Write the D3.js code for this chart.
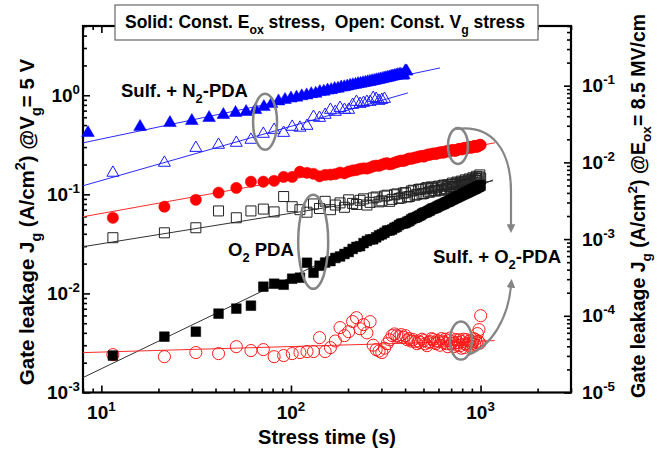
<!DOCTYPE html>
<html>
<head>
<meta charset="utf-8">
<script src="https://cdn.jsdelivr.net/npm/d3@7"></script>
<style>
    body { margin: 0; background: #fff; }
    text { font-family: Arial, "Liberation Sans", sans-serif; font-weight: bold; fill: #000; }
</style>
</head>
<body>
<svg id="SVG_CONTAINER" width="657" height="450"></svg>
<script>
let d3 = window.d3;

// ---- data (stress time in s, leakage in A/cm^2) ----
const timesN2Eox = [8.5, 16, 23, 30, 37, 44, 51, 58, 65, 72, 79, 86, 93, 100, 107, 114, 121, 128, 135, 142,
    149, 156, 163, 170, 177, 184, 191, 198, 205, 212, 219, 226, 233, 240, 247, 254, 261, 268, 275, 282,
    289, 296, 303, 310, 317, 324, 331, 338, 345, 352, 359, 366, 373, 380, 387, 394, 401, 408];
const jN2Eox = [0.417, 0.480, 0.526, 0.551, 0.591, 0.634, 0.664, 0.680, 0.712, 0.762, 0.818, 0.87, 0.90, 0.93,
    0.95, 0.98, 1.00, 1.03, 1.04, 1.08, 1.09, 1.12, 1.13, 1.16, 1.17, 1.20, 1.21, 1.23, 1.25, 1.27, 1.28,
    1.30, 1.31, 1.33, 1.34, 1.36, 1.37, 1.39, 1.40, 1.42, 1.43, 1.45, 1.46, 1.48, 1.49, 1.51, 1.52, 1.54,
    1.55, 1.57, 1.58, 1.60, 1.61, 1.62, 1.58, 1.60, 1.75, 1.74];

const timesN2Vg = [11.5, 21.5, 31.5, 41.5, 51.5, 61.5, 71.5, 81.5, 91.5, 101.5, 111.5, 121.5, 131.5, 141.5,
    151.5, 161.5, 171.5, 181.5, 191.5, 201.5, 211.5, 221.5, 231.5, 241.5, 251.5, 261.5, 271.5, 281.5,
    291.5, 301.5, 311.5];
const jN2Vg = [0.165, 0.208, 0.294, 0.316, 0.331, 0.355, 0.408, 0.447, 0.417, 0.480, 0.47, 0.491, 0.605,
    0.591, 0.634, 0.712, 0.680, 0.745, 0.712, 0.712, 0.799, 0.857, 0.818, 0.837, 0.857, 0.857, 0.940,
    0.918, 0.877, 0.897, 0.918];

const timesLong = [11.5, 21.5, 31.5, 41.5, 51.5, 61.5, 71.5, 81.5, 91.5, 101.5,
    111.5, 121.5, 131.5, 141.5, 151.5, 161.5, 171.5, 181.5, 191.5, 201.5,
    211.5, 221.5, 231.5, 241.5, 251.5, 261.5, 271.5, 281.5, 291.5, 301.5,
    311.5, 321.5, 331.5, 341.5, 351.5, 361.5, 371.5, 381.5, 391.5, 401.5,
    411.5, 421.5, 431.5, 441.5, 451.5, 461.5, 471.5, 481.5, 491.5, 501.5,
    511.5, 521.5, 531.5, 541.5, 551.5, 561.5, 571.5, 581.5, 591.5, 601.5,
    611.5, 621.5, 631.5, 641.5, 651.5, 661.5, 671.5, 681.5, 691.5, 701.5,
    711.5, 721.5, 731.5, 741.5, 751.5, 761.5, 771.5, 781.5, 791.5, 801.5,
    811.5, 821.5, 831.5, 841.5, 851.5, 861.5, 871.5, 881.5, 891.5, 901.5,
    911.5, 921.5, 931.5, 941.5, 951.5, 961.5, 971.5, 981.5, 991.5, 1001.5];

const jSulfO2Eox = [0.058, 0.075, 0.088, 0.104, 0.116, 0.134, 0.134, 0.137, 0.150, 0.150,
    0.169, 0.165, 0.161, 0.152, 0.157, 0.158, 0.160, 0.166, 0.163, 0.170,
    0.174, 0.176, 0.181, 0.183, 0.182, 0.186, 0.192, 0.195, 0.194, 0.199,
    0.204, 0.206, 0.201, 0.203, 0.209, 0.212, 0.216, 0.219, 0.217, 0.221,
    0.226, 0.230, 0.228, 0.232, 0.235, 0.236, 0.240, 0.242, 0.244, 0.240,
    0.246, 0.249, 0.253, 0.251, 0.255, 0.257, 0.259, 0.255, 0.260, 0.262,
    0.265, 0.266, 0.263, 0.265, 0.270, 0.272, 0.274, 0.270, 0.275, 0.277,
    0.280, 0.279, 0.275, 0.276, 0.281, 0.284, 0.287, 0.288, 0.284, 0.286,
    0.291, 0.293, 0.295, 0.290, 0.294, 0.297, 0.301, 0.300, 0.296, 0.297,
    0.302, 0.304, 0.308, 0.307, 0.302, 0.303, 0.309, 0.312, 0.316, 0.315];

const jO2Vg = [0.0365, 0.0409, 0.046, 0.068, 0.058, 0.068, 0.071, 0.0665, 0.095, 0.075,
    0.070, 0.066, 0.080, 0.072, 0.085, 0.070, 0.078, 0.082, 0.074, 0.088,
    0.081, 0.079, 0.087, 0.090, 0.078, 0.083, 0.092, 0.094, 0.084, 0.086,
    0.096, 0.098, 0.085, 0.089, 0.099, 0.101, 0.091, 0.092, 0.103, 0.104,
    0.094, 0.095, 0.108, 0.110, 0.098, 0.100, 0.112, 0.113, 0.101, 0.102,
    0.114, 0.117, 0.105, 0.106, 0.119, 0.115, 0.109, 0.108, 0.118, 0.121,
    0.111, 0.110, 0.122, 0.124, 0.114, 0.113, 0.125, 0.120, 0.118, 0.126,
    0.130, 0.116, 0.121, 0.128, 0.133, 0.119, 0.124, 0.131, 0.136, 0.122,
    0.127, 0.134, 0.140, 0.125, 0.130, 0.137, 0.143, 0.128, 0.133, 0.140,
    0.147, 0.132, 0.138, 0.145, 0.152, 0.138, 0.143, 0.150, 0.157, 0.146];

const jO2Eox = [0.00236, 0.00366, 0.00411, 0.00625, 0.00702, 0.00752, 0.01169, 0.01253, 0.01225, 0.01408,
    0.01441, 0.0204, 0.01618, 0.01904, 0.0205, 0.0212, 0.0228, 0.0236, 0.0250, 0.0262,
    0.0281, 0.0295, 0.0300, 0.0322, 0.0338, 0.0350, 0.0352, 0.0368, 0.0385, 0.0395,
    0.0410, 0.0430, 0.0432, 0.0442, 0.0460, 0.0470, 0.0490, 0.0505, 0.0508, 0.0515,
    0.0530, 0.0540, 0.0560, 0.0575, 0.0580, 0.0590, 0.0605, 0.0615, 0.0635, 0.0650,
    0.0655, 0.0665, 0.0680, 0.0690, 0.0710, 0.0720, 0.0725, 0.0735, 0.0750, 0.0765,
    0.0775, 0.0785, 0.0795, 0.0805, 0.0820, 0.0835, 0.0840, 0.0850, 0.0865, 0.0880,
    0.0890, 0.0900, 0.0915, 0.0925, 0.0935, 0.0950, 0.0960, 0.0970, 0.0985, 0.0995,
    0.1005, 0.1015, 0.1030, 0.1040, 0.1050, 0.1060, 0.1075, 0.1085, 0.1095, 0.1110,
    0.1120, 0.1130, 0.1140, 0.1150, 0.1165, 0.1180, 0.1190, 0.1200, 0.1215, 0.1230];

const jSulfO2Vg = [0.00241, 0.00230, 0.00253, 0.00247, 0.00290, 0.00265, 0.00271, 0.00230, 0.00236, 0.00247,
    0.00253, 0.00259, 0.00259, 0.00358, 0.00259, 0.00284, 0.00331, 0.00452, 0.00375, 0.00411,
    0.00520, 0.00569, 0.00440, 0.00484, 0.00400, 0.00519, 0.00300, 0.00271, 0.00262, 0.00253,
    0.00280, 0.00311, 0.00340, 0.00375, 0.00390, 0.00375, 0.00365, 0.00384, 0.00360, 0.00375,
    0.00340, 0.00350, 0.00330, 0.00342, 0.00325, 0.00311, 0.00330, 0.00319, 0.00345, 0.00334,
    0.00310, 0.00297, 0.00320, 0.00326, 0.00350, 0.00342, 0.00320, 0.00311, 0.00335, 0.00326,
    0.00300, 0.00350, 0.00330, 0.00319, 0.00345, 0.00311, 0.00290, 0.00334, 0.00355, 0.00311,
    0.00325, 0.00290, 0.00315, 0.00342, 0.00300, 0.00319, 0.00340, 0.00297, 0.00280, 0.00326,
    0.00345, 0.00284, 0.00310, 0.00342, 0.00300, 0.00311, 0.00330, 0.00334, 0.00295, 0.00311,
    0.00325, 0.00350, 0.00305, 0.00342, 0.00320, 0.00393, 0.00330, 0.00431, 0.00315, 0.00596];

// fitted lines, [time, J] end points
const fitN2Eox = [[8, 0.331], [611, 1.886]];
const fitN2Vg = [[8, 0.122], [414, 1.056]];
const fitSulfO2Eox = [[8, 0.0594], [1191, 0.331]];
const fitO2Vg = [[8, 0.0296], [1162, 0.137]];
const fitO2Eox = [[8, 0.001414], [1162, 0.140]];
const fitSulfO2Vg = [[8, 0.002527], [1191, 0.00334]];

const MARGIN = {
    "LEFT": 83,
    "RIGHT": 571,
    "TOP": 26,
    "BOTTOM": 392.5,
};

const GREY = "#858585";

let svg = d3.select("#SVG_CONTAINER");

let x = d3.scaleLog().domain([8, 3000]).range([MARGIN.LEFT, MARGIN.RIGHT]);
let yL = d3.scaleLog().domain([1e-3, 5]).range([MARGIN.BOTTOM, MARGIN.TOP]);
let yR = d3.scaleLog().domain([1e-5, 0.6]).range([MARGIN.BOTTOM, MARGIN.TOP]);

// text with sub / superscripts, parts = [[text, kind]]
function rich(sel, parts, size) {
    let shift = 0;
    parts.forEach(function (p) {
        let target = p[1] === "sub" ? size * 0.32 : (p[1] === "sup" ? -size * 0.42 : 0);
        sel.append("tspan")
            .attr("dy", target - shift)
            .style("font-size", (p[1] ? size * 0.7 : size) + "px")
            .text(p[0]);
        shift = target;
    });
    return sel;
}

function logTicks(scale) {
    let dom = scale.domain(), out = [];
    for (let e = Math.floor(Math.log10(dom[0])); e <= Math.ceil(Math.log10(dom[1])); e++) {
        for (let k = 1; k <= 9; k++) {
            let v = k * Math.pow(10, e);
            if (v >= dom[0] * 0.999 && v <= dom[1] * 1.001) out.push({v: v, major: k === 1});
        }
    }
    return out;
}

function drawAxis(axisFn, scale, transform) {
    let ticks = logTicks(scale);
    [true, false].forEach(function (major) {
        let g = svg.append("g")
            .attr("transform", transform)
            .call(axisFn(scale)
                .tickValues(ticks.filter(t => t.major === major).map(t => t.v))
                .tickSize(major ? -7 : -4)
                .tickFormat(""));
        g.select(".domain").remove();
        g.selectAll(".tick line").attr("stroke", "#000").attr("stroke-width", 1.6);
    });
}

drawAxis(d3.axisBottom, x, "translate(0," + MARGIN.BOTTOM + ")");
drawAxis(d3.axisTop, x, "translate(0," + MARGIN.TOP + ")");
drawAxis(d3.axisLeft, yL, "translate(" + MARGIN.LEFT + ",0)");
drawAxis(d3.axisRight, yR, "translate(" + MARGIN.RIGHT + ",0)");

svg.append("rect")
    .attr("x", MARGIN.LEFT).attr("y", MARGIN.TOP)
    .attr("width", MARGIN.RIGHT - MARGIN.LEFT)
    .attr("height", MARGIN.BOTTOM - MARGIN.TOP)
    .attr("fill", "none").attr("stroke", "#000").attr("stroke-width", 2.2);

// tick labels
[10, 100, 1000].forEach(function (v) {
    rich(svg.append("text").attr("x", x(v)).attr("y", 419).attr("text-anchor", "middle"),
        [["10", ""], [String(Math.round(Math.log10(v))), "sup"]], 19);
});
[1e-3, 1e-2, 1e-1, 1].forEach(function (v) {
    rich(svg.append("text").attr("x", 80).attr("y", yL(v) + 6.5).attr("text-anchor", "end"),
        [["10", ""], [String(Math.round(Math.log10(v))), "sup"]], 19);
});
[1e-5, 1e-4, 1e-3, 1e-2, 1e-1].forEach(function (v) {
    rich(svg.append("text").attr("x", 582).attr("y", yR(v) + 6.5),
        [["10", ""], [String(Math.round(Math.log10(v))), "sup"]], 19);
});

// axis titles
rich(svg.append("text").attr("x", 327).attr("y", 444).attr("text-anchor", "middle"),
    [["Stress time (s)", ""]], 20);
rich(svg.append("text").attr("text-anchor", "middle").attr("transform", "translate(34,222)rotate(-90)"),
    [["Gate leakage J", ""], ["g", "sub"], [" (A/cm", ""], ["2", "sup"], [") @V", ""], ["g", "sub"], ["= 5 V", ""]], 20.5);
rich(svg.append("text").attr("text-anchor", "middle").attr("transform", "translate(645,206)rotate(-90)"),
    [["Gate leakage J", ""], ["g", "sub"], [" (A/cm", ""], ["2", "sup"], [") @E", ""], ["ox", "sub"], ["= 8.5 MV/cm", ""]], 19.5);

// fit lines
let line = d3.line().x(d => x(d[0])).y(d => yL(d[1]));
let plot = svg.append("g");
[[fitN2Eox, "#2b2bff"], [fitN2Vg, "#2b2bff"], [fitSulfO2Eox, "#ff2b2b"],
 [fitO2Vg, "#333"], [fitO2Eox, "#333"], [fitSulfO2Vg, "#ff2b2b"]].forEach(function (f) {
    plot.append("path").attr("d", line(f[0]))
        .attr("fill", "none").attr("stroke", f[1]).attr("stroke-width", 1);
});

// markers
function series(times, vals, type, size, color, filled) {
    plot.append("g").selectAll("path")
        .data(times.map((t, i) => [t, vals[i]]))
        .enter()
        .append("path")
            .attr("d", d3.symbol().type(type).size(size))
            .attr("transform", d => "translate(" + x(d[0]) + "," + yL(d[1]) + ")")
            .attr("fill", filled ? color : "none")
            .attr("stroke", color)
            .attr("stroke-width", filled ? 0.5 : 1);
}

series(timesLong, jSulfO2Vg, d3.symbolCircle, 115, "#ff1a1a", false);
series(timesLong, jO2Vg, d3.symbolSquare, 100, "#222", false);
series(timesLong, jO2Eox, d3.symbolSquare, 95, "#000", true);
series(timesLong, jSulfO2Eox, d3.symbolCircle, 100, "#ff0000", true);
series(timesN2Vg, jN2Vg, d3.symbolTriangle, 62, "#1a1aff", false);
series(timesN2Eox, jN2Eox, d3.symbolTriangle, 70, "#0000ff", true);

// ellipses and arrows
[[73, 0.54, 12, 28], [131, 0.0332, 15, 47], [760, 0.308, 10, 18], [788, 0.00334, 11, 19]].forEach(function (e) {
    svg.append("ellipse")
        .attr("cx", x(e[0])).attr("cy", yL(e[1]))
        .attr("rx", e[2]).attr("ry", e[3])
        .attr("fill", "none").attr("stroke", GREY).attr("stroke-width", 2.5);
});

svg.append("defs").append("marker")
    .attr("id", "head").attr("viewBox", "0 0 10 10")
    .attr("refX", 2).attr("refY", 5)
    .attr("markerWidth", 4).attr("markerHeight", 4)
    .attr("orient", "auto")
    .append("path").attr("d", "M0,0 L10,5 L0,10 z").attr("fill", GREY);

svg.append("path")
    .attr("d", "M456,129 C492,124 511,150 511,192 L511,226")
    .attr("fill", "none").attr("stroke", GREY).attr("stroke-width", 2.2)
    .attr("marker-end", "url(#head)");
svg.append("path")
    .attr("d", "M468,355 C492,346 508,318 511,286")
    .attr("fill", "none").attr("stroke", GREY).attr("stroke-width", 2.2)
    .attr("marker-end", "url(#head)");

// annotations
rich(svg.append("text").attr("x", 121).attr("y", 97), [["Sulf. + N", ""], ["2", "sub"], ["-PDA", ""]], 18.5);
rich(svg.append("text").attr("x", 228).attr("y", 256), [["O", ""], ["2", "sub"], [" PDA", ""]], 18.5);
rich(svg.append("text").attr("x", 433).attr("y", 263), [["Sulf. + O", ""], ["2", "sub"], ["-PDA", ""]], 18.5);

// legend box
svg.append("rect")
    .attr("x", 115).attr("y", 5).attr("width", 423).attr("height", 35)
    .attr("fill", "#fff").attr("stroke", "#666").attr("stroke-width", 1.2);
rich(svg.append("text").attr("x", 125).attr("y", 28),
    [["Solid: Const. E", ""], ["ox", "sub"], [" stress,\u00a0 Open: Const. V", ""], ["g", "sub"], [" stress", ""]], 17.5);
</script>
</body>
</html>
